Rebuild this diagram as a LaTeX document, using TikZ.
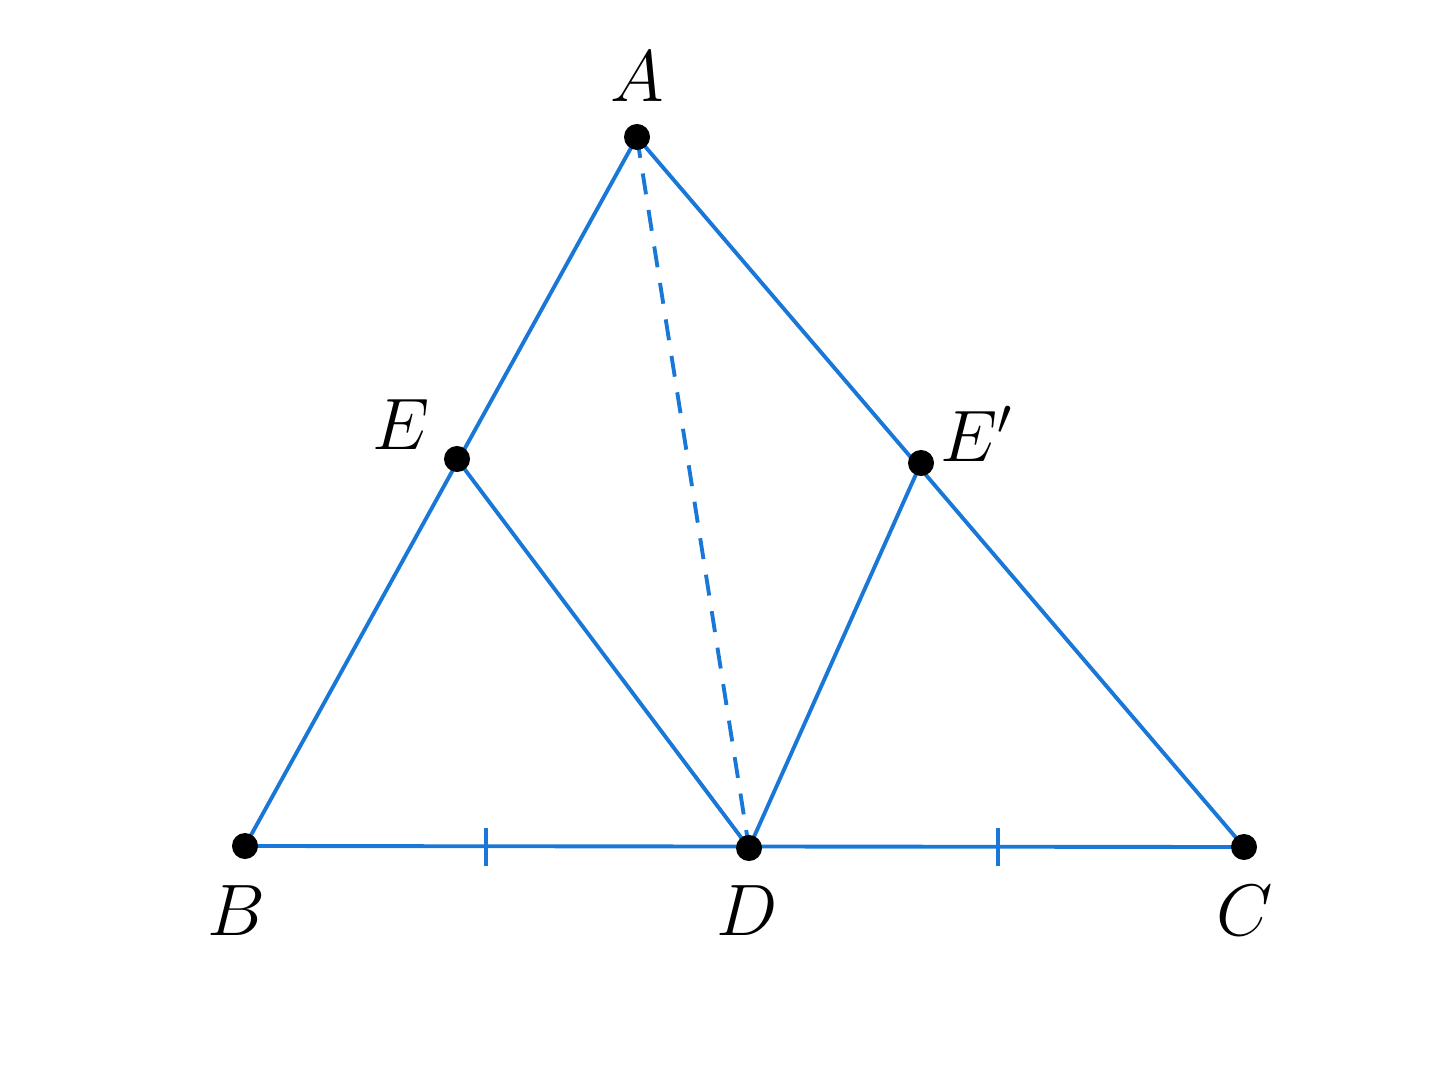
\documentclass[tikz,border=0pt]{standalone}
\usepackage{amsmath, amssymb}
\usepackage{xcolor}
\usepackage{tikz}
\usetikzlibrary{
	arrows,shapes,backgrounds,decorations.markings
}
\definecolor{segblue}{RGB}{25,120,215}
\tikzset{
	pt/.style={circle,fill=black,inner sep=0pt,minimum size=0.26cm},
	lbl/.style={font=\fontsize{21}{25}\selectfont},
	seg/.style={draw=segblue,line width=1.1pt},
	tick/.style={draw=segblue,line width=1.1pt}
}
\begin{document}
\begin{tikzpicture}[x=0.01cm,y=-0.01cm]
		\useasboundingbox (0,0) rectangle (1445,1088);
		\node[pt] (A) at (637,137) {};
		\node[pt] (B) at (245,846) {};
		\node[pt] (C) at (1244,847) {};
		\node[pt] (D) at (749,848) {};
		\node[pt] (E) at (457,459) {};
		\node[pt] (E') at (921,463) {};
		%
		\node[lbl] (lA) at (637,77) {$A$};
		\node[lbl] (lB) at (236,911) {$B$};
		\node[lbl] (lC) at (1245,911) {$C$};
		\node[lbl] (lD) at (747,911) {$D$};
		\node[lbl] (lE) at (401,425) {$E$};
		\node[lbl] (lE') at (977,434) {$E'$};
		%
		\coordinate (M1) at (486,847);
		\coordinate (M2) at (998,847);
		%
		\begin{scope}[on background layer]
		\path[seg]
		(A.center) edge (B.center)
		(A.center) edge (C.center)
		(B.center) edge (C.center)
		(E.center) edge (D.center)
		(E'.center) edge (D.center)
		(A.center) edge[dash pattern=on 6pt off 4.5pt] (D.center);
		\path[tick]
		(M1) ++(0,-19) edge ++(0,38)
		(M2) ++(0,-19) edge ++(0,38);
		\end{scope}
		\end{tikzpicture}
\end{document}
